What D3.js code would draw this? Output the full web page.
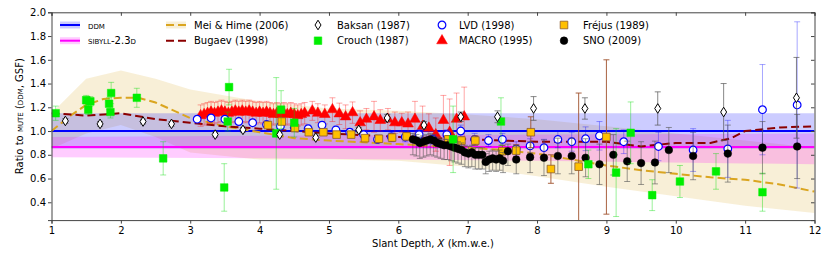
<!DOCTYPE html>
<html>
<head>
<meta charset="utf-8">
<script src="https://cdn.jsdelivr.net/npm/d3@7"></script>
<style>
  body { margin: 0; background: #fff; }
  svg text { font-family: "DejaVu Sans", sans-serif; font-size: 10px; fill: #000; }
</style>
</head>
<body>
<div class="container-chart"></div>
<script>

// axis ticks
var xTicks = [1, 2, 3, 4, 5, 6, 7, 8, 9, 10, 11, 12];
var yTicks = [0.4, 0.6, 0.8, 1.0, 1.2, 1.4, 1.6, 1.8, 2.0];

// model bands
var ddmX = [1, 12];
var ddmMid = [1.0, 1.0];
var ddmLo = [0.85, 0.85];
var ddmHi = [1.15, 1.15];

var sibX = [1, 4, 8, 12];
var sibMid = [0.865, 0.865, 0.865, 0.865];
var sibLo = [0.78, 0.77, 0.75, 0.72];
var sibHi = [0.95, 0.96, 0.97, 0.98];

var meiBandX = [1, 1.5, 2, 2.5, 3, 3.5, 4, 5, 6, 7, 8, 9, 10, 11, 12];
var meiBandHi = [1.15, 1.44, 1.51, 1.44, 1.35, 1.30, 1.25, 1.19, 1.17, 1.14, 1.10, 1.04, 0.98, 0.92, 0.86];
var meiBandLo = [0.85, 0.98, 1.05, 0.95, 0.82, 0.79, 0.76, 0.76, 0.75, 0.70, 0.62, 0.53, 0.45, 0.37, 0.31];

var meiX = [1, 1.25, 1.5, 1.75, 2, 2.25, 2.5, 3, 3.5, 4, 4.5, 5, 6, 7, 7.5, 8, 8.5, 9, 9.5, 10, 10.5, 11, 11.5, 12];
var meiY = [1.0, 1.12, 1.22, 1.27, 1.28, 1.28, 1.24, 1.11, 1.04, 0.99, 0.94, 0.92, 0.89, 0.86, 0.84, 0.81, 0.76, 0.71, 0.67, 0.64, 0.61, 0.59, 0.55, 0.49];

var bugaevX = [1, 1.5, 2, 2.5, 3, 3.5, 4, 5, 6, 7, 8, 9, 9.5, 10, 10.5, 10.8, 11, 11.5, 12];
var bugaevY = [1.15, 1.13, 1.15, 1.10, 1.07, 1.04, 1.02, 0.98, 0.95, 0.93, 0.91, 0.91, 0.87, 0.90, 0.90, 0.94, 1.0, 1.03, 1.04];

// measurements
var baksanX = [1.20, 1.70, 2.32, 2.73, 3.36, 3.76, 4.29, 4.81, 5.43, 5.84, 6.37, 6.90, 7.43, 7.95, 8.69, 9.74, 10.69, 11.74];
var baksanY = [1.085, 1.06, 1.08, 1.06, 0.97, 1.01, 0.97, 0.945, 1.01, 1.11, 1.05, 1.12, 1.12, 1.19, 1.19, 1.19, 1.16, 1.28];
var baksanErr = [0.02, 0.02, 0.02, 0.02, 0.02, 0.02, 0.02, 0.02, 0.02, 0.03, 0.03, 0.04, 0.05, 0.10, 0.09, 0.14, 0.24, 0.34];

var crouchX = [1.06, 1.50, 1.53, 1.56, 1.83, 1.85, 1.86, 2.23, 2.61, 3.49, 3.54, 3.56, 4.24, 4.31, 4.50, 6.79, 7.48, 8.74, 9.14, 9.35, 9.66, 10.06, 10.58, 11.25];
var crouchY = [1.15, 1.26, 1.18, 1.25, 1.23, 1.16, 1.32, 1.28, 0.77, 0.525, 1.08, 1.37, 0.98, 1.18, 1.07, 0.93, 1.08, 0.72, 0.65, 0.985, 0.46, 0.575, 0.66, 0.485];
var crouchErr = [0.06, 0.04, 0.04, 0.04, 0.05, 0.05, 0.09, 0.08, 0.14, 0.20, 0.08, 0.15, 0.47, 0.16, 0.12, 0.28, 0.20, 0.12, 0.37, 0.26, 0.13, 0.135, 0.15, 0.16];

var lvdX = [3.1, 3.3, 3.5, 3.7, 3.9, 4.1, 4.3, 4.5, 4.7, 4.9, 5.1, 5.3, 5.5, 5.7, 5.9, 6.1, 6.3, 6.5, 6.7, 6.9, 7.1, 7.3, 7.5, 7.7, 7.9, 8.1, 8.3, 8.5, 8.7, 8.9, 9.25, 9.75, 10.25, 10.75, 11.25, 11.75];
var lvdY = [1.10, 1.11, 1.10, 1.08, 1.07, 1.055, 1.04, 1.03, 1.02, 1.05, 1.01, 0.99, 0.97, 0.93, 0.95, 0.95, 0.97, 0.93, 0.97, 1.0, 0.93, 0.92, 0.93, 0.85, 0.875, 0.86, 0.93, 0.91, 0.935, 0.96, 0.91, 0.87, 0.84, 0.85, 1.18, 1.22];
var lvdErr = [0.02, 0.02, 0.02, 0.02, 0.02, 0.02, 0.02, 0.02, 0.03, 0.03, 0.03, 0.03, 0.03, 0.03, 0.04, 0.04, 0.04, 0.04, 0.04, 0.05, 0.05, 0.05, 0.05, 0.06, 0.06, 0.07, 0.07, 0.08, 0.10, 0.12, 0.10, 0.12, 0.18, 0.24, 0.38, 0.70];

var macroX = [3.15, 3.20, 3.25, 3.30, 3.35, 3.40, 3.45, 3.50, 3.55, 3.60, 3.65, 3.70, 3.75, 3.80, 3.85, 3.90, 3.95, 4.00, 4.05, 4.10, 4.15, 4.20, 4.25, 4.30, 4.35, 4.40, 4.45, 4.50, 4.55, 4.60, 4.65,
  4.76, 4.84, 4.94, 5.05, 5.15, 5.24, 5.34, 5.45, 5.54, 5.65, 5.74, 5.85, 5.95, 6.05, 6.14, 6.24, 6.35, 6.44, 6.54, 6.65, 6.74, 6.84, 6.95];
var macroY = [1.13, 1.14, 1.15, 1.16, 1.15, 1.16, 1.17, 1.16, 1.15, 1.16, 1.17, 1.16, 1.17, 1.16, 1.17, 1.16, 1.15, 1.16, 1.15, 1.16, 1.15, 1.14, 1.15, 1.14, 1.15, 1.14, 1.15, 1.14, 1.13, 1.14, 1.15,
  1.17, 1.15, 1.14, 1.18, 1.145, 1.12, 1.155, 1.07, 1.10, 1.12, 1.09, 1.10, 1.07, 1.07, 1.06, 1.10, 1.04, 1.025, 0.97, 1.09, 0.99, 1.10, 1.12];
var macroErr = [0.09, 0.09, 0.09, 0.09, 0.09, 0.09, 0.09, 0.09, 0.09, 0.09, 0.09, 0.09, 0.09, 0.09, 0.09, 0.09, 0.09, 0.09, 0.09, 0.09, 0.09, 0.09, 0.09, 0.09, 0.09, 0.09, 0.09, 0.09, 0.09, 0.09, 0.09,
  0.08, 0.08, 0.08, 0.10, 0.09, 0.10, 0.09, 0.10, 0.09, 0.13, 0.09, 0.09, 0.09, 0.08, 0.10, 0.15, 0.17, 0.12, 0.14, 0.21, 0.28, 0.22, 0.25];

var frejusX = [4.12, 4.32, 4.51, 4.71, 4.92, 5.11, 5.32, 5.52, 5.72, 5.91, 6.12, 6.72, 6.91, 7.11, 7.50, 7.70, 7.91, 8.20, 8.60, 9.00];
var frejusY = [1.05, 1.08, 1.025, 0.99, 0.99, 0.97, 0.97, 0.94, 0.935, 0.945, 0.955, 0.93, 0.92, 0.92, 0.83, 0.835, 0.99, 0.68, 0.70, 0.95];
var frejusErr = [0.02, 0.02, 0.02, 0.02, 0.02, 0.02, 0.02, 0.02, 0.03, 0.03, 0.03, 0.03, 0.03, 0.04, 0.05, 0.05, 0.13, 0.12, 0.62, 0.65];

var snoX = [6.21, 6.26, 6.31, 6.36, 6.41, 6.46, 6.51, 6.56, 6.61, 6.66, 6.71, 6.76, 6.81, 6.86, 6.91, 6.96, 7.01, 7.06, 7.11, 7.16, 7.21, 7.26, 7.31, 7.36, 7.41, 7.46, 7.51, 7.58,
  7.70, 7.90, 8.10, 8.30, 8.50, 8.70, 8.90, 9.10, 9.30, 9.50, 9.70, 9.90, 10.25, 10.75, 11.25, 11.75];
var snoY = [0.93, 0.92, 0.90, 0.91, 0.92, 0.93, 0.92, 0.90, 0.89, 0.88, 0.88, 0.87, 0.86, 0.85, 0.84, 0.82, 0.81, 0.82, 0.80, 0.80, 0.80, 0.74, 0.76, 0.77, 0.76, 0.77, 0.75, 0.83,
  0.76, 0.78, 0.775, 0.79, 0.79, 0.775, 0.72, 0.80, 0.745, 0.73, 0.735, 0.84, 0.79, 0.81, 0.86, 0.87];
var snoErrLo = [0.13, 0.13, 0.13, 0.13, 0.13, 0.13, 0.13, 0.12, 0.12, 0.12, 0.12, 0.12, 0.12, 0.12, 0.12, 0.12, 0.12, 0.12, 0.12, 0.12, 0.12, 0.10, 0.10, 0.10, 0.10, 0.10, 0.10, 0.12,
  0.12, 0.13, 0.15, 0.15, 0.15, 0.16, 0.17, 0.17, 0.17, 0.18, 0.18, 0.19, 0.20, 0.24, 0.22, 0.27];
var snoErrHi = [0.05, 0.05, 0.05, 0.05, 0.05, 0.05, 0.05, 0.05, 0.05, 0.05, 0.05, 0.05, 0.06, 0.06, 0.06, 0.06, 0.06, 0.06, 0.06, 0.06, 0.06, 0.07, 0.07, 0.07, 0.07, 0.07, 0.07, 0.06,
  0.12, 0.13, 0.15, 0.15, 0.15, 0.16, 0.17, 0.17, 0.17, 0.18, 0.18, 0.19, 0.20, 0.24, 0.22, 0.27];

var width = 830, height = 260;
var margin = {left: 51.5, right: 15.5, top: 12.3, bottom: 39.9};

var x = d3.scaleLinear().domain([1, 12]).range([margin.left, width - margin.right]);
var y = d3.scaleLinear().domain([0.25, 2.0]).range([height - margin.bottom, margin.top]);

var svg = d3.select(".container-chart")
  .append("svg")
  .attr("width", width)
  .attr("height", height);

svg.append("clipPath").attr("id", "plotclip")
  .append("rect")
  .attr("x", x(1)).attr("y", y(2.0))
  .attr("width", x(12) - x(1)).attr("height", y(0.25) - y(2.0));

var plot = svg.append("g").attr("clip-path", "url(#plotclip)");

function zip3(xs, a, b) {
  return xs.map(function (v, i) { return [v, a[i], b[i]]; });
}

function band(xs, lo, hi, color, op) {
  var area = d3.area()
    .x(function (d) { return x(d[0]); })
    .y0(function (d) { return y(d[1]); })
    .y1(function (d) { return y(d[2]); });
  plot.append("path")
    .attr("d", area(zip3(xs, lo, hi)))
    .attr("fill", color)
    .attr("fill-opacity", op)
    .attr("stroke", "none");
}

function curve(xs, ys, color, dash) {
  var line = d3.line()
    .x(function (d) { return x(d[0]); })
    .y(function (d) { return y(d[1]); });
  plot.append("path")
    .attr("d", line(xs.map(function (v, i) { return [v, ys[i]]; })))
    .attr("fill", "none")
    .attr("stroke", color)
    .attr("stroke-width", 2)
    .attr("stroke-dasharray", dash || null);
}

// bands + model lines
band(meiBandX, meiBandLo, meiBandHi, "#daa520", 0.18);
band(ddmX, ddmLo, ddmHi, "#0000ff", 0.2);
band(sibX, sibLo, sibHi, "#ff00ff", 0.2);
curve(ddmX, ddmMid, "#0000ff");
curve(sibX, sibMid, "#ff00ff");
curve(meiX, meiY, "#daa520", "8,4");
curve(bugaevX, bugaevY, "#8b0000", "8,4");

function errorbars(xs, ys, lo, hi, color, op) {
  var g = plot.append("g")
    .attr("stroke", color)
    .attr("stroke-opacity", op)
    .attr("stroke-width", 1)
    .attr("fill", "none");
  xs.forEach(function (v, i) {
    var px = x(v), top = y(ys[i] + hi[i]), bot = y(ys[i] - lo[i]);
    g.append("path")
      .attr("d", "M" + px + "," + top + "V" + bot +
        "M" + (px - 3) + "," + top + "H" + (px + 3) +
        "M" + (px - 3) + "," + bot + "H" + (px + 3));
  });
}

var diamondPath = "M0,-4.8L3,0L0,4.8L-3,0Z";
var squarePath = "M-3.8,-3.8H3.8V3.8H-3.8Z";

function markerPath(kind) {
  if (kind === "square") return squarePath;
  if (kind === "circle") return d3.symbol(d3.symbolCircle, 46)();
  if (kind === "triangle") return d3.symbol(d3.symbolTriangle, 50)();
  return diamondPath;
}

function markers(xs, ys, kind, fill, stroke, sw) {
  plot.append("g").selectAll("path")
    .data(xs.map(function (v, i) { return [v, ys[i]]; }))
    .enter()
    .append("path")
    .attr("transform", function (d) { return "translate(" + x(d[0]) + "," + y(d[1]) + ")"; })
    .attr("d", markerPath(kind))
    .attr("fill", fill)
    .attr("stroke", stroke)
    .attr("stroke-width", sw);
}

// MACRO
errorbars(macroX, macroY, macroErr, macroErr, "#ff0000", 0.35);
markers(macroX, macroY, "triangle", "#ff0000", "#ff0000", 0.5);
// LVD
errorbars(lvdX, lvdY, lvdErr, lvdErr, "#0000ff", 0.35);
markers(lvdX, lvdY, "circle", "#fff", "#0000ff", 1.2);
// Frejus
errorbars(frejusX, frejusY, frejusErr, frejusErr, "#a0522d", 0.9);
markers(frejusX, frejusY, "square", "#ffc000", "#8b5a2b", 0.8);
// SNO
errorbars(snoX, snoY, snoErrLo, snoErrHi, "#555", 0.6);
markers(snoX, snoY, "circle", "#000", "#000", 0.5);
// Crouch
errorbars(crouchX, crouchY, crouchErr, crouchErr, "#00dd00", 0.4);
markers(crouchX, crouchY, "square", "#00ee00", "#00ee00", 0.5);
// Baksan
errorbars(baksanX, baksanY, baksanErr, baksanErr, "#555", 0.7);
markers(baksanX, baksanY, "diamond", "#fff", "#000", 1);

// axes
var axisColor = "#444";
var xAxis = svg.append("g")
  .attr("transform", "translate(0," + y(0.25) + ")")
  .call(d3.axisBottom(x).tickValues(xTicks).tickSize(3.5).tickPadding(3).tickFormat(d3.format("d")));
var yAxis = svg.append("g")
  .attr("transform", "translate(" + x(1) + ",0)")
  .call(d3.axisLeft(y).tickValues(yTicks).tickSize(3.5).tickPadding(2).tickFormat(d3.format(".1f")));
var xTop = svg.append("g")
  .attr("transform", "translate(0," + y(2.0) + ")")
  .call(d3.axisBottom(x).tickValues(xTicks).tickSize(3.5).tickFormat(""));
var yRight = svg.append("g")
  .attr("transform", "translate(" + x(12) + ",0)")
  .call(d3.axisLeft(y).tickValues(yTicks).tickSize(3.5).tickFormat(""));

[xAxis, yAxis, xTop, yRight].forEach(function (a) {
  a.select(".domain").attr("stroke", axisColor).attr("stroke-width", 1);
  a.selectAll(".tick line").attr("stroke", axisColor);
  a.selectAll("text").attr("font-size", 10).attr("font-family", "DejaVu Sans").attr("fill", "#000");
});

// axis labels
var xl = svg.append("text")
  .attr("x", (x(1) + x(12)) / 2)
  .attr("y", 247)
  .attr("text-anchor", "middle");
xl.append("tspan").text("Slant Depth, ");
xl.append("tspan").attr("font-style", "italic").text("X");
xl.append("tspan").text(" (km.w.e.)");

var yl = svg.append("text")
  .attr("transform", "translate(23," + ((y(0.25) + y(2.0)) / 2) + ") rotate(-90)")
  .attr("text-anchor", "middle");
yl.append("tspan").text("Ratio to ");
yl.append("tspan").style("font-variant", "small-caps").text("mute");
yl.append("tspan").text(" (");
yl.append("tspan").style("font-variant", "small-caps").text("ddm");
yl.append("tspan").text(", GSF)");

// legend
var leg = svg.append("g");
function legLine(lx, ly, color, dash, bandColor, bandOp) {
  leg.append("rect").attr("x", lx).attr("y", ly - 3.5).attr("width", 20).attr("height", 7)
    .attr("fill", bandColor).attr("fill-opacity", bandOp);
  leg.append("line").attr("x1", lx).attr("x2", lx + 20).attr("y1", ly).attr("y2", ly)
    .attr("stroke", color).attr("stroke-width", 2).attr("stroke-dasharray", dash || null);
}
function legText(lx, ly, txt, caps) {
  var t = leg.append("text").attr("x", lx).attr("y", ly + 3.5).text(txt);
  if (caps) t.style("font-variant", "small-caps");
}
function legMarker(lx, ly, kind, fill, stroke, sw) {
  leg.append("path").attr("transform", "translate(" + lx + "," + ly + ")")
    .attr("d", markerPath(kind))
    .attr("fill", fill).attr("stroke", stroke).attr("stroke-width", sw);
}

var r1 = 25, r2 = 40.7;
legLine(60, r1, "#0000ff", null, "#0000ff", 0.2);
legText(88, r1, "ddm", true);
legLine(60, r2, "#ff00ff", null, "#ff00ff", 0.2);
legText(88, r2, "sibyll-2.3d", true);

legLine(166, r1, "#daa520", "8,4", "#daa520", 0.18);
legText(194, r1, "Mei & Hime (2006)");
legLine(166, r2, "#8b0000", "8,4", "none", 0);
legText(194, r2, "Bugaev (1998)");

legMarker(318, r1, "diamond", "#fff", "#000", 1);
legText(337, r1, "Baksan (1987)");
legMarker(318, r2, "square", "#00ee00", "#00ee00", 0.5);
legText(337, r2, "Crouch (1987)");

legMarker(442, r1, "circle", "#fff", "#0000ff", 1.2);
legText(459, r1, "LVD (1998)");
legMarker(442, r2, "triangle", "#ff0000", "#ff0000", 0.5);
legText(459, r2, "MACRO (1995)");

legMarker(564, r1, "square", "#ffc000", "#8b5a2b", 0.8);
legText(583, r1, "Fréjus (1989)");
legMarker(564, r2, "circle", "#000", "#000", 0.5);
legText(583, r2, "SNO (2009)");

</script>
</body>
</html>
